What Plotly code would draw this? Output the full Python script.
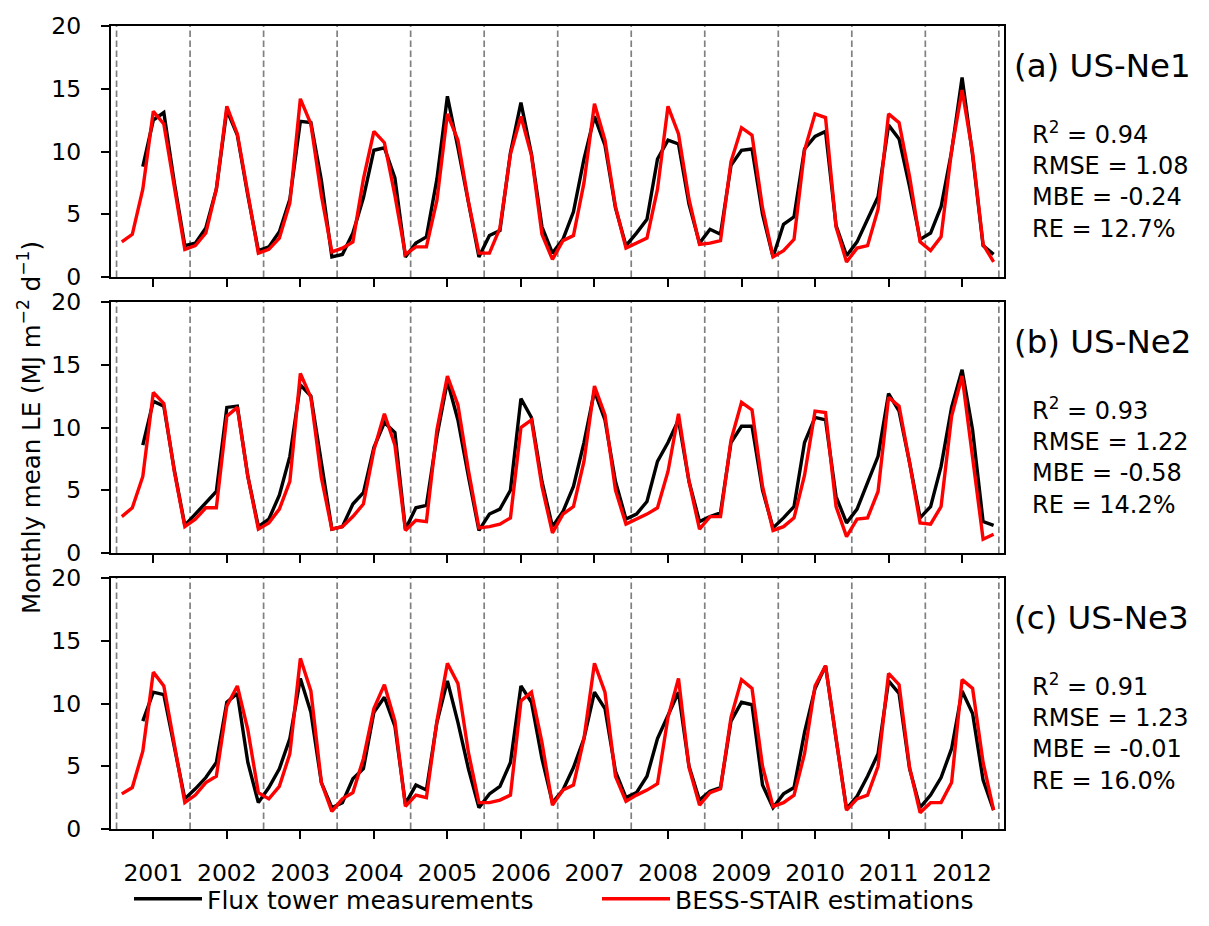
import plotly.graph_objects as go

# ---------------- data ----------------
years = list(range(2001, 2013))
points_per_year = 7          # points per year, centred on the year tick
site_titles = ["(a) US-Ne1", "(b) US-Ne2", "(c) US-Ne3"]

flux_ne1 = [None, None, 8.8, 12.5, 13.1, 7.5, 2.5,
            2.7, 3.9, 7.0, 13.3, 11.3, 6.5, 2.1,
            2.4, 3.6, 6.2, 12.4, 12.3, 7.7, 1.6,
            1.8, 3.5, 6.3, 10.1, 10.3, 7.9, 1.6,
            2.7, 3.2, 7.8, 14.4, 10.3, 5.8, 1.6,
            3.3, 3.7, 9.9, 13.9, 9.8, 4.0, 1.9,
            3.0, 5.2, 9.4, 12.8, 10.5, 5.5, 2.5,
            3.5, 4.6, 9.4, 10.9, 10.6, 5.8, 2.7,
            3.8, 3.4, 8.9, 10.1, 10.2, 5.0, 1.6,
            4.2, 4.8, 10.2, 11.2, 11.6, 4.1, 1.7,
            2.8, 4.6, 6.4, 12.1, 11.0, 7.2, 3.0,
            3.5, 5.6, 10.0, 15.9, 9.7, 2.5, 1.8]
bess_ne1 = [2.8, 3.4, 7.0, 13.2, 12.2, 7.2, 2.2,
            2.5, 3.5, 7.0, 13.6, 11.4, 6.5, 1.9,
            2.2, 3.1, 5.9, 14.2, 12.2, 6.5, 2.0,
            2.3, 2.8, 7.8, 11.6, 10.7, 6.5, 1.8,
            2.4, 2.4, 6.1, 13.0, 10.9, 6.0, 1.9,
            1.9, 3.9, 9.8, 12.8, 9.7, 3.4, 1.4,
            2.9, 3.3, 7.5, 13.8, 10.9, 5.6, 2.3,
            2.7, 3.1, 7.0, 13.6, 11.4, 6.2, 2.6,
            2.7, 2.9, 9.2, 11.9, 11.3, 5.5, 1.6,
            2.1, 3.0, 10.1, 13.0, 12.7, 4.0, 1.2,
            2.3, 2.5, 5.4, 13.0, 12.3, 8.0, 2.8,
            2.1, 3.2, 10.1, 14.9, 9.9, 2.6, 1.2]

flux_ne2 = [None, None, 8.6, 12.1, 11.7, 6.6, 2.2,
            3.1, 4.0, 4.9, 11.6, 11.7, 6.1, 2.1,
            2.7, 4.6, 7.7, 13.4, 12.5, 7.2, 1.9,
            2.1, 3.9, 4.8, 8.4, 10.4, 9.6, 1.9,
            3.6, 3.8, 9.3, 13.7, 10.6, 6.1, 1.8,
            3.1, 3.5, 5.0, 12.3, 10.8, 5.7, 2.1,
            3.3, 5.3, 8.8, 12.9, 10.6, 5.7, 2.7,
            3.1, 4.1, 7.3, 8.8, 10.6, 5.7, 2.5,
            2.9, 3.2, 8.8, 10.1, 10.1, 5.0, 2.0,
            2.8, 3.7, 8.8, 10.8, 10.6, 4.5, 2.4,
            3.5, 5.6, 7.7, 12.7, 11.3, 7.2, 2.8,
            3.7, 6.9, 11.6, 14.6, 9.8, 2.5, 2.2]
bess_ne2 = [2.9, 3.6, 6.1, 12.8, 11.9, 6.5, 2.1,
            2.7, 3.6, 3.6, 10.9, 11.6, 6.1, 1.9,
            2.4, 3.5, 5.7, 14.3, 12.4, 6.0, 1.9,
            2.1, 2.9, 3.9, 8.2, 11.1, 8.6, 1.8,
            2.6, 2.5, 9.8, 14.1, 11.8, 6.6, 2.0,
            2.1, 2.3, 2.8, 10.0, 10.6, 5.3, 1.6,
            3.1, 3.7, 7.3, 13.3, 11.0, 5.0, 2.3,
            2.7, 3.1, 3.6, 6.5, 11.1, 5.7, 1.9,
            2.9, 2.9, 9.0, 12.0, 11.4, 5.3, 1.8,
            2.1, 2.8, 6.2, 11.3, 11.2, 3.7, 1.3,
            2.7, 2.8, 4.9, 12.4, 11.7, 7.2, 2.4,
            2.3, 3.7, 10.9, 14.1, 7.6, 1.1, 1.5]

flux_ne3 = [None, None, 8.6, 10.9, 10.7, 6.4, 2.4,
            3.2, 4.1, 5.3, 10.1, 10.8, 5.3, 2.1,
            3.3, 4.8, 7.2, 12.0, 9.3, 3.7, 1.7,
            2.1, 4.0, 4.8, 9.3, 10.5, 8.2, 2.0,
            3.5, 3.1, 8.5, 11.8, 8.5, 4.8, 1.7,
            2.8, 3.4, 5.3, 11.4, 10.1, 5.6, 2.1,
            3.1, 4.9, 7.2, 10.9, 9.6, 4.6, 2.5,
            2.9, 4.2, 7.2, 9.0, 10.9, 5.0, 2.3,
            3.0, 3.3, 8.6, 10.1, 9.9, 3.5, 1.7,
            2.8, 3.3, 7.7, 11.2, 13.0, 7.2, 1.6,
            2.6, 4.2, 6.0, 11.8, 10.8, 4.8, 1.7,
            2.7, 4.1, 6.4, 11.0, 9.2, 3.9, 1.5]
bess_ne3 = [2.8, 3.3, 6.2, 12.5, 11.4, 6.6, 2.1,
            2.7, 3.7, 4.2, 9.8, 11.4, 7.9, 2.9,
            2.4, 3.4, 6.0, 13.6, 11.0, 3.7, 1.4,
            2.4, 2.9, 5.6, 9.6, 11.5, 8.6, 1.8,
            2.7, 2.5, 8.6, 13.2, 11.6, 6.1, 2.1,
            2.1, 2.3, 2.7, 10.2, 10.9, 6.9, 1.9,
            3.1, 3.5, 7.2, 13.2, 10.9, 4.2, 2.2,
            2.7, 3.1, 3.6, 8.9, 12.0, 4.9, 1.9,
            2.9, 3.2, 8.9, 11.9, 11.2, 5.0, 1.8,
            2.1, 2.7, 6.0, 11.4, 13.0, 7.2, 1.5,
            2.4, 2.7, 5.0, 12.4, 11.5, 4.9, 1.3,
            2.1, 2.1, 3.7, 11.9, 11.2, 5.3, 1.5]

r2 = ["0.94", "0.93", "0.91"]
rmse = ["1.08", "1.22", "1.23"]
mbe = ["-0.24", "-0.58", "-0.01"]
re_pct = ["12.7%", "14.2%", "16.0%"]

y_ticks = [0, 5, 10, 15, 20]
legend_names = ["Flux tower measurements", "BESS-STAIR estimations"]

# ---------------- figure ----------------
half = points_per_year // 2
x = [yr + (k - half) / points_per_year for yr in years for k in range(points_per_year)]

flux_all = [flux_ne1, flux_ne2, flux_ne3]
bess_all = [bess_ne1, bess_ne2, bess_ne3]

FONT = "DejaVu Sans"
fig = go.Figure()

for i in range(3):
    sfx = "" if i == 0 else str(i + 1)
    fig.add_trace(go.Scatter(x=x, y=flux_all[i], mode="lines", name=legend_names[0],
                             line=dict(color="#000000", width=3.4),
                             xaxis="x" + sfx, yaxis="y" + sfx, legend="legend",
                             showlegend=(i == 0), connectgaps=False))
    fig.add_trace(go.Scatter(x=x, y=bess_all[i], mode="lines", name=legend_names[1],
                             line=dict(color="#ff0000", width=3.4),
                             xaxis="x" + sfx, yaxis="y" + sfx, legend="legend2",
                             showlegend=(i == 0)))

# layout geometry (page body adds an 8px offset, compensated here)
W, H = 1201, 918
L, R, T, B = 103, 205, 18, 97
ph = H - T - B
pw = W - L - R
panel_h = 251
gap = (ph - 3 * panel_h) / 2
domains = []
for i in range(3):
    top = 1 - i * (panel_h + gap) / ph
    bot = top - panel_h / ph
    domains.append([max(0, bot), min(1, top)])

x_range = [2000.4245, 2012.57]
axis_common = dict(showline=True, linewidth=2.4, linecolor="black", mirror=True,
                   ticks="outside", ticklen=8, tickwidth=2.4, tickcolor="black",
                   showgrid=False, zeroline=False, automargin=False,
                   tickfont=dict(family=FONT, size=23.5, color="black"))

legend_style = dict(orientation="h", xref="container", xanchor="left",
                    yref="container", y=(H - 891) / H, yanchor="middle",
                    font=dict(family=FONT, size=25), itemwidth=68,
                    bgcolor="rgba(0,0,0,0)")

layout = dict(width=W, height=H, margin=dict(l=L, r=R, t=T, b=B, autoexpand=False),
              paper_bgcolor="white", plot_bgcolor="white",
              font=dict(family=FONT, color="black"),
              legend=dict(legend_style, x=121 / W),
              legend2=dict(legend_style, x=589 / W))

for i in range(3):
    sfx = "" if i == 0 else str(i + 1)
    xa = dict(axis_common, domain=[0, 1], range=x_range, tickvals=years,
              ticktext=[str(y) for y in years], anchor="y" + sfx,
              showticklabels=(i == 2), ticklabelstandoff=14)
    if i > 0:
        xa["matches"] = "x"
    ya = dict(axis_common, domain=domains[i], range=[0, 20], tickvals=y_ticks,
              anchor="x" + sfx, ticklabelstandoff=15)
    if i == 1:
        ya["title"] = dict(text="Monthly mean LE (MJ m<sup>−2</sup> d<sup>−1</sup>)",
                           font=dict(family=FONT, size=24.5), standoff=4)
    layout["xaxis" + sfx] = xa
    layout["yaxis" + sfx] = ya

fig.update_layout(**layout)

# year separators (dashed)
boundaries = [yr - 0.5 for yr in years] + [years[-1] + 0.5]
for i in range(3):
    sfx = "" if i == 0 else str(i + 1)
    for b in boundaries:
        fig.add_shape(type="line", xref="x" + sfx, yref="y" + sfx + " domain",
                      x0=b, x1=b, y0=0, y1=1, layer="below",
                      line=dict(color="#808080", width=1.7, dash="6.5px,3.5px"))

# panel titles and statistics
title_x = (1004 - L) / pw
stat_x = (1022 - L) / pw
for i in range(3):
    sfx = "" if i == 0 else str(i + 1)
    fig.add_annotation(text=site_titles[i], xref="paper", yref="y" + sfx + " domain",
                       x=title_x, y=0.84, xanchor="left", yanchor="middle",
                       showarrow=False, font=dict(family=FONT, size=32.5, color="black"))
    stats_text = "<br>".join(["R<sup>2</sup> = " + r2[i], "RMSE = " + rmse[i],
                              "MBE = " + mbe[i], "RE = " + re_pct[i]])
    fig.add_annotation(text=stats_text, xref="paper", yref="y" + sfx + " domain",
                       x=stat_x, y=0.385, xanchor="left", yanchor="middle", align="left",
                       showarrow=False, font=dict(family=FONT, size=24, color="black"))

fig.write_html("out.html")
